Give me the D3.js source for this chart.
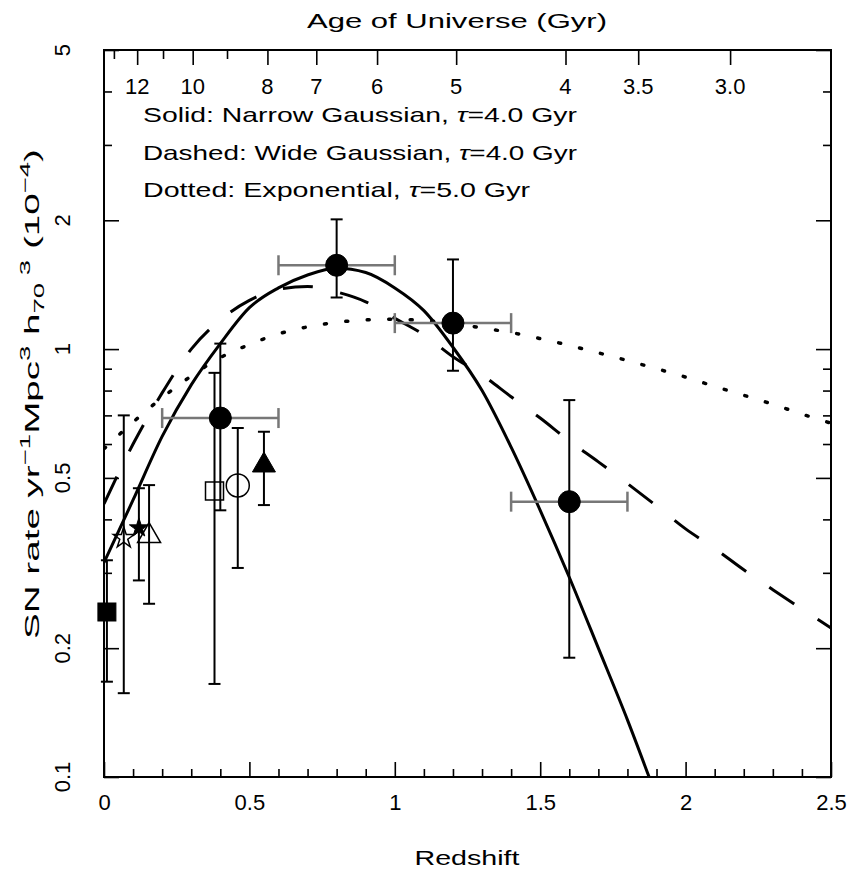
<!DOCTYPE html>
<html>
<head>
<meta charset="utf-8">
<script src="https://cdn.jsdelivr.net/npm/d3@7"></script>
<style>
  html, body { margin: 0; padding: 0; background: #fff; }
  svg { display: block; }
  text { font-family: "Liberation Sans", Arial, Helvetica, sans-serif; fill: #000; }
</style>
</head>
<body>
<svg id="chart" width="858" height="875"></svg>
<script>
// ---------------- DATA ----------------
// Model curves (redshift, SN rate in 1e-4 / yr / Mpc^3 h70^3)
const solidZ    = [0, 0.1, 0.2, 0.3, 0.4, 0.5, 0.6, 0.7, 0.8, 0.9, 1.0, 1.1, 1.2, 1.3, 1.4, 1.5, 1.6, 1.7, 1.8, 1.9, 2.0];
const solidRate = [0.317, 0.444, 0.625, 0.825, 1.03, 1.25, 1.39, 1.49, 1.545, 1.51, 1.39, 1.23, 1.01, 0.80, 0.59, 0.42, 0.293, 0.20, 0.136, 0.09, 0.06];

const dashedZ    = [0, 0.1, 0.2, 0.3, 0.4, 0.5, 0.6, 0.7, 0.8, 0.9, 1.0, 1.1, 1.2, 1.3, 1.4, 1.5, 1.6, 1.7, 1.8, 1.9, 2.0, 2.1, 2.2, 2.3, 2.4, 2.5];
const dashedRate = [0.435, 0.60, 0.79, 1.00, 1.17, 1.30, 1.38, 1.40, 1.36, 1.29, 1.18, 1.08, 0.96, 0.87, 0.774, 0.69, 0.61, 0.545, 0.485, 0.43, 0.38, 0.342, 0.305, 0.274, 0.247, 0.223];

const dottedZ    = [0, 0.1, 0.2, 0.3, 0.4, 0.5, 0.6, 0.7, 0.8, 0.9, 1.0, 1.1, 1.2, 1.3, 1.4, 1.5, 1.6, 1.7, 1.8, 1.9, 2.0, 2.1, 2.2, 2.3, 2.4, 2.5];
const dottedRate = [0.585, 0.675, 0.77, 0.865, 0.955, 1.025, 1.085, 1.127, 1.155, 1.17, 1.175, 1.165, 1.15, 1.12, 1.093, 1.058, 1.02, 0.98, 0.94, 0.90, 0.86, 0.818, 0.78, 0.743, 0.705, 0.671];

// Observations
const obsSymbol = ["filledSquare", "openStar", "filledStar", "openTriangle", "openSquare", "filledCircle", "openCircle", "filledTriangle", "filledCircle", "filledCircle", "filledCircle"];
const obsZ      = [0.01, 0.068, 0.12, 0.155, 0.38, 0.40, 0.46, 0.55, 0.80, 1.20, 1.60];
const obsRate   = [0.243, 0.362, 0.382, 0.366, 0.466, 0.69, 0.48, 0.535, 1.57, 1.15, 0.44];
const obsLo     = [0.167, 0.157, 0.288, 0.254, 0.165, 0.42, 0.308, 0.432, 1.32, 0.89, 0.19];
const obsHi     = [0.321, 0.70, 0.473, 0.481, 0.88, 1.03, 0.654, 0.641, 2.01, 1.62, 0.76];
const obsZLo    = [null, null, null, null, null, 0.2, null, null, 0.6, 1.0, 1.4];
const obsZHi    = [null, null, null, null, null, 0.6, null, null, 1.0, 1.4, 1.8];

// Axis ticks
const xMajorTicks = [0, 0.5, 1, 1.5, 2, 2.5];
const xMajorLabels = ["0", "0.5", "1", "1.5", "2", "2.5"];
const xMinorTicks = [0.1,0.2,0.3,0.4,0.6,0.7,0.8,0.9,1.1,1.2,1.3,1.4,1.6,1.7,1.8,1.9,2.1,2.2,2.3,2.4];
const yMajorTicks = [0.1, 0.2, 0.5, 1, 2, 5];
const yMajorLabels = ["0.1", "0.2", "0.5", "1", "2", "5"];
const yMinorTicks = [0.3, 0.4, 0.6, 0.7, 0.8, 0.9, 3, 4];
// Age of universe (Gyr) ticks on top axis, at the redshift where each age falls
const ageTickZ      = [0.034, 0.114, 0.203, 0.305, 0.423, 0.562, 0.730, 0.939, 1.211, 1.587, 1.837, 2.153];
const ageTickLabels = ["", "12", "", "10", "", "8", "7", "6", "5", "4", "3.5", "3.0"];

// ---------------- CHART ----------------
const svg = d3.select("#chart");
const L = 104, R = 831, T = 50, B = 777;
const x = d3.scaleLinear().domain([0, 2.5]).range([L, R]);
const y = d3.scaleLog().domain([0.1, 5]).range([B, T]);
const FS = 21;

svg.append("defs").append("clipPath").attr("id", "clip")
  .append("rect").attr("x", L).attr("y", T).attr("width", R - L).attr("height", B - T);

// Axes ticks
function styleAxis(g) {
  g.select(".domain").remove();
  g.selectAll(".tick line").attr("stroke", "#000").attr("stroke-width", 1.6);
}
svg.append("g").attr("transform", `translate(0,${B})`)
  .call(d3.axisBottom(x).tickValues(xMinorTicks).tickSize(-8).tickFormat(""))
  .call(styleAxis);
const xMaj = svg.append("g").attr("transform", `translate(0,${B})`)
  .call(d3.axisBottom(x).tickValues(xMajorTicks).tickSize(-15).tickPadding(17)
        .tickFormat((d, i) => xMajorLabels[i]))
  .call(styleAxis);
xMaj.selectAll(".tick text").attr("font-size", 22).attr("font-family", "Liberation Sans, Arial, sans-serif").attr("fill", "#000");

svg.append("g").attr("transform", `translate(${L},0)`)
  .call(d3.axisLeft(y).tickValues(yMinorTicks).tickSize(-8).tickFormat(""))
  .call(styleAxis);
svg.append("g").attr("transform", `translate(${L},0)`)
  .call(d3.axisLeft(y).tickValues(yMajorTicks).tickSize(-15).tickFormat(""))
  .call(styleAxis);
svg.append("g").attr("transform", `translate(${R},0)`)
  .call(d3.axisRight(y).tickValues(yMinorTicks).tickSize(-8).tickFormat(""))
  .call(styleAxis);
svg.append("g").attr("transform", `translate(${R},0)`)
  .call(d3.axisRight(y).tickValues(yMajorTicks).tickSize(-15).tickFormat(""))
  .call(styleAxis);

// Top (age) axis
svg.append("g").attr("transform", `translate(0,${T})`)
  .call(d3.axisTop(x).tickValues(ageTickZ).tickSizeOuter(0)
        .tickSizeInner(0).tickFormat(""))
  .call(styleAxis)
  .selectAll(".tick line")
  .attr("y2", (d, i) => ageTickLabels[i] ? 15 : 9);
svg.append("g").selectAll("text").data(ageTickZ).join("text")
  .attr("x", d => x(d))
  .attr("y", 94)
  .attr("text-anchor", "middle")
  .attr("font-size", 22)
  .text((d, i) => ageTickLabels[i]);

// Y tick labels (rotated)
svg.append("g").selectAll("text").data(yMajorTicks).join("text")
  .attr("transform", d => `translate(70,${y(d)}) rotate(-90)`)
  .attr("text-anchor", "middle")
  .attr("font-size", 22)
  .text((d, i) => yMajorLabels[i]);

// Frame
svg.append("rect").attr("x", L).attr("y", T).attr("width", R - L).attr("height", B - T)
  .attr("fill", "none").attr("stroke", "#000").attr("stroke-width", 2);

// Curves
const line = d3.line().x(d => x(d[0])).y(d => y(d[1])).curve(d3.curveMonotoneX);
const curves = svg.append("g").attr("clip-path", "url(#clip)");
curves.append("path").datum(d3.zip(solidZ, solidRate)).attr("d", line)
  .attr("fill", "none").attr("stroke", "#000").attr("stroke-width", 3);
curves.append("path").datum(d3.zip(dashedZ, dashedRate)).attr("d", line)
  .attr("fill", "none").attr("stroke", "#000").attr("stroke-width", 3)
  .attr("stroke-dasharray", "30,28");
curves.append("path").datum(d3.zip(dottedZ, dottedRate)).attr("d", line)
  .attr("fill", "none").attr("stroke", "#000").attr("stroke-width", 3.5)
  .attr("stroke-linecap", "round").attr("stroke-dasharray", "2,19.5");

// Error bars
const idx = d3.range(obsZ.length);
const eb = svg.append("g");
// horizontal (grey)
idx.filter(i => obsZLo[i] !== null).forEach(i => {
  const yy = y(obsRate[i]);
  eb.append("line").attr("x1", x(obsZLo[i])).attr("x2", x(obsZHi[i])).attr("y1", yy).attr("y2", yy)
    .attr("stroke", "#777").attr("stroke-width", 2.5);
  [obsZLo[i], obsZHi[i]].forEach(zz => {
    eb.append("line").attr("x1", x(zz)).attr("x2", x(zz)).attr("y1", yy - 10).attr("y2", yy + 10)
      .attr("stroke", "#777").attr("stroke-width", 2.5);
  });
});
// vertical (black)
idx.forEach(i => {
  const xx = x(obsZ[i]);
  eb.append("line").attr("x1", xx).attr("x2", xx).attr("y1", y(obsLo[i])).attr("y2", y(obsHi[i]))
    .attr("stroke", "#000").attr("stroke-width", 2);
  [obsLo[i], obsHi[i]].forEach(v => {
    eb.append("line").attr("x1", xx - 6).attr("x2", xx + 6).attr("y1", y(v)).attr("y2", y(v))
      .attr("stroke", "#000").attr("stroke-width", 2);
  });
});

// Markers
const mk = svg.append("g");
idx.forEach(i => {
  const cx = x(obsZ[i]), cy = y(obsRate[i]);
  const s = obsSymbol[i];
  const filled = s.startsWith("filled");
  let el;
  if (s.endsWith("Circle")) {
    el = mk.append("circle").attr("cx", cx).attr("cy", cy).attr("r", filled ? 11 : 11.5);
  } else if (s.endsWith("Square")) {
    el = mk.append("rect").attr("x", cx - 9).attr("y", cy - 9).attr("width", 18).attr("height", 18);
  } else if (s.endsWith("Triangle")) {
    el = mk.append("path").attr("transform", `translate(${cx},${cy})`)
      .attr("d", d3.symbol(d3.symbolTriangle, 229)());
  } else if (s.endsWith("Star")) {
    el = mk.append("path").attr("transform", `translate(${cx},${cy})`)
      .attr("d", d3.symbol(d3.symbolStar, filled ? 112 : 136)());
  }
  el.attr("fill", filled ? "#000" : "none").attr("stroke", "#000").attr("stroke-width", filled ? 1 : 1.5);
});

// Legend text
const legendLines = [
  ["Solid: Narrow Gaussian, ", "τ", "=4.0 Gyr", 122, 434],
  ["Dashed: Wide Gaussian, ", "τ", "=4.0 Gyr", 160, 434],
  ["Dotted: Exponential, ", "τ", "=5.0 Gyr", 197, 387]
];
legendLines.forEach(l => {
  const t = svg.append("text").attr("x", 143).attr("y", l[3]).attr("font-size", FS)
    .attr("textLength", l[4]).attr("lengthAdjust", "spacingAndGlyphs");
  t.append("tspan").text(l[0]);
  t.append("tspan").attr("font-style", "italic").text(l[1]);
  t.append("tspan").text(l[2]);
});

// Titles
svg.append("text").attr("x", 457).attr("y", 28).attr("text-anchor", "middle")
  .attr("font-size", FS).attr("textLength", 300).attr("lengthAdjust", "spacingAndGlyphs")
  .text("Age of Universe (Gyr)");
svg.append("text").attr("x", 467).attr("y", 865).attr("text-anchor", "middle")
  .attr("font-size", FS).attr("textLength", 105).attr("lengthAdjust", "spacingAndGlyphs")
  .text("Redshift");

const yl = svg.append("text").attr("transform", "translate(39,394) rotate(-90)")
  .attr("text-anchor", "middle").attr("font-size", FS)
  .attr("textLength", 490).attr("lengthAdjust", "spacingAndGlyphs");
const SUP = 15;
yl.append("tspan").text("SN rate yr");
yl.append("tspan").attr("font-size", SUP).attr("dy", -9).text("\u22121");
yl.append("tspan").attr("dy", 9).text("Mpc");
yl.append("tspan").attr("font-size", SUP).attr("dy", -9).text("3");
yl.append("tspan").attr("dy", 9).text(" h");
yl.append("tspan").attr("font-size", SUP).attr("dy", 5).text("70");
yl.append("tspan").attr("font-size", SUP).attr("dy", -14).text(" 3");
yl.append("tspan").attr("dy", 9).text(" (10");
yl.append("tspan").attr("font-size", SUP).attr("dy", -9).text("\u22124");
yl.append("tspan").attr("dy", 9).text(")");
</script>
</body>
</html>
